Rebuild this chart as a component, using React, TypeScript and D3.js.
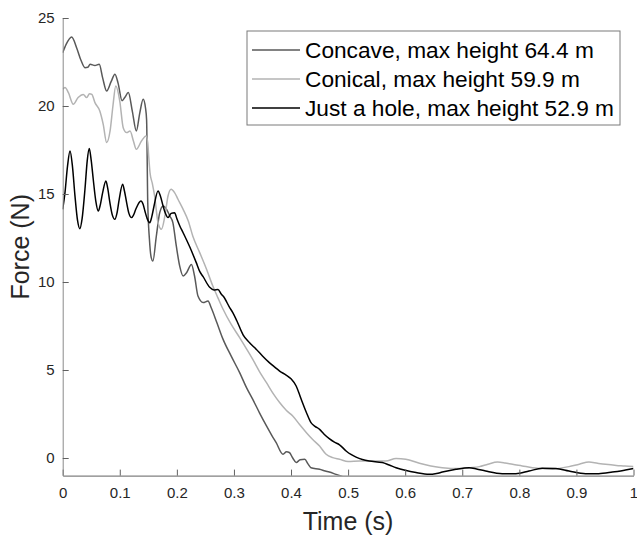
import { useRef, useEffect } from 'react';
import * as d3 from 'd3';

// [time (s), force (N)]
const concave: [number, number][] = [
  [0, 23.03], [0.006, 23.5], [0.0157, 23.92], [0.0245, 23.3], [0.032, 22.6], [0.039, 22.18],
  [0.044, 22.2], [0.048, 22.37], [0.0565, 22.3], [0.064, 22.37], [0.07, 21.6], [0.077, 20.85],
  [0.085, 21.4], [0.0915, 21.8], [0.097, 21.3], [0.104, 20.3], [0.109, 20.5], [0.115, 20.76],
  [0.122, 19.7], [0.129, 18.58], [0.135, 19.6], [0.141, 20.38], [0.145, 19.9], [0.147, 19.2],
  [0.149, 14.5], [0.152, 12.4], [0.155, 11.4], [0.158, 11.19], [0.164, 12.6], [0.17, 13.94],
  [0.176, 14.32], [0.182, 14.13], [0.1876, 13.75], [0.193, 13.37], [0.199, 12.05], [0.205, 10.9],
  [0.211, 10.34], [0.217, 10.53], [0.2255, 11.0], [0.231, 10.34], [0.237, 9.2], [0.246, 8.83],
  [0.2546, 8.92], [0.26, 8.55], [0.27, 7.7], [0.281, 6.74], [0.295, 5.8], [0.31, 4.85],
  [0.322, 4.0], [0.333, 3.33], [0.345, 2.55], [0.357, 1.82], [0.366, 1.3], [0.374, 0.87],
  [0.386, 0.21], [0.392, 0.35], [0.397, 0.31], [0.403, 0.0], [0.409, -0.26], [0.416, -0.1],
  [0.424, -0.07], [0.43, -0.35], [0.435, -0.55], [0.45, -0.64], [0.46, -0.74], [0.467, -0.8],
  [0.479, -0.93], [0.49, -1.05],
];

const conical: [number, number][] = [
  [0, 20.95], [0.004, 21.05], [0.01, 20.76], [0.0185, 20.1], [0.027, 20.48], [0.036, 20.66],
  [0.042, 20.48], [0.047, 20.7], [0.051, 20.66], [0.0565, 20.19], [0.065, 19.72], [0.071, 18.96],
  [0.077, 17.92], [0.083, 18.58], [0.088, 20.0], [0.093, 21.14], [0.1, 20.28], [0.106, 18.77],
  [0.112, 18.49], [0.118, 18.58], [0.124, 18.0], [0.129, 17.54], [0.138, 18.01], [0.146, 18.3],
  [0.149, 17.9], [0.151, 17.0], [0.153, 16.2], [0.157, 15.6], [0.161, 14.9], [0.167, 13.37],
  [0.173, 13.0], [0.179, 13.75], [0.1846, 14.9], [0.19, 15.27], [0.196, 15.08], [0.202, 14.7],
  [0.211, 14.13], [0.22, 13.47], [0.228, 12.6], [0.24, 11.67], [0.252, 10.72], [0.263, 9.77],
  [0.272, 9.1], [0.281, 8.45], [0.295, 7.6], [0.31, 6.84], [0.322, 6.2], [0.333, 5.6],
  [0.345, 4.9], [0.357, 4.28], [0.37, 3.6], [0.38, 3.15], [0.392, 2.7], [0.403, 2.39],
  [0.415, 1.9], [0.427, 1.44], [0.438, 1.05], [0.45, 0.68], [0.4615, 0.21], [0.473, 0.02],
  [0.485, -0.07], [0.5, -0.2], [0.52, -0.17], [0.543, -0.17], [0.566, -0.17], [0.584, -0.03],
  [0.601, -0.07], [0.625, -0.3], [0.645, -0.45], [0.665, -0.55], [0.695, -0.6], [0.712, -0.55],
  [0.73, -0.49], [0.745, -0.35], [0.762, -0.23], [0.775, -0.28], [0.788, -0.36], [0.805, -0.45],
  [0.823, -0.55], [0.84, -0.6], [0.858, -0.64], [0.872, -0.58], [0.887, -0.49], [0.905, -0.35],
  [0.922, -0.23], [0.937, -0.3], [0.951, -0.36], [0.97, -0.42], [0.985, -0.45], [1.0, -0.49],
];

const justHole: [number, number][] = [
  [0, 14.13], [0.004, 15.08], [0.0085, 16.6], [0.0128, 17.44], [0.017, 16.6], [0.0215, 14.89],
  [0.026, 13.5], [0.03, 13.03], [0.034, 13.6], [0.039, 15.27], [0.043, 16.9], [0.0465, 17.58],
  [0.05, 16.9], [0.0535, 15.84], [0.058, 14.6], [0.0623, 14.03], [0.066, 14.4], [0.07, 15.08],
  [0.0757, 15.74], [0.079, 15.3], [0.0827, 14.51], [0.087, 13.8], [0.0914, 13.56], [0.095, 13.9],
  [0.099, 14.7], [0.105, 15.55], [0.108, 15.2], [0.112, 14.51], [0.116, 13.9], [0.1206, 13.66],
  [0.124, 13.8], [0.128, 14.13], [0.137, 14.6], [0.141, 14.4], [0.144, 14.03], [0.148, 13.6],
  [0.1526, 13.37], [0.156, 13.7], [0.16, 14.32], [0.167, 15.17], [0.171, 14.9], [0.176, 14.3],
  [0.18, 13.9], [0.1846, 13.66], [0.19, 13.9], [0.196, 13.94], [0.2, 13.6], [0.205, 13.2],
  [0.211, 12.8], [0.2225, 12.0], [0.234, 11.1], [0.24, 10.6], [0.246, 10.3], [0.2575, 9.7],
  [0.265, 9.55], [0.272, 9.58], [0.278, 9.3], [0.281, 9.2], [0.2925, 8.55], [0.298, 8.26],
  [0.305, 7.8], [0.316, 7.0], [0.327, 6.56], [0.339, 6.18], [0.35, 5.8], [0.362, 5.42],
  [0.372, 5.15], [0.38, 4.94], [0.392, 4.7], [0.4, 4.5], [0.409, 4.09], [0.415, 3.6],
  [0.42, 3.15], [0.428, 2.5], [0.435, 2.01], [0.442, 1.8], [0.45, 1.63], [0.458, 1.35],
  [0.467, 1.1], [0.476, 0.9], [0.485, 0.75], [0.4965, 0.4], [0.505, 0.2], [0.514, 0.05],
  [0.525, -0.08], [0.537, -0.17], [0.56, -0.26], [0.572, -0.4], [0.584, -0.55], [0.6, -0.7],
  [0.619, -0.83], [0.642, -0.93], [0.655, -0.88], [0.665, -0.8], [0.689, -0.64], [0.712, -0.55],
  [0.725, -0.62], [0.741, -0.74], [0.77, -0.89], [0.794, -0.89], [0.817, -0.74], [0.84, -0.58],
  [0.864, -0.6], [0.887, -0.74], [0.916, -0.89], [0.939, -0.89], [0.963, -0.8], [0.986, -0.68],
  [1.0, -0.6],
];

const seriesNames = ['Concave, max height 64.4 m', 'Conical, max height 59.9 m', 'Just a hole, max height 52.9 m'];
const seriesColors = ['#595959', '#b3b3b3', '#000000'];
const xTicks = [0, 0.1, 0.2, 0.3, 0.4, 0.5, 0.6, 0.7, 0.8, 0.9, 1];
const yTicks = [0, 5, 10, 15, 20, 25];

const W = 637;
const H = 536;
const FONT = '"Liberation Sans", Arial, Helvetica, sans-serif';

export default function App() {
  const svgRef = useRef<SVGSVGElement>(null);

  useEffect(() => {
    if (!svgRef.current) return;
    const svg = d3.select(svgRef.current);
    svg.selectAll('*').remove();

    const x = d3.scaleLinear().domain([0, 1]).range([62.7, 633.5]);
    const y = d3.scaleLinear().domain([-1, 25]).range([475.6, 18]);

    svg.append('defs').append('clipPath').attr('id', 'plot-clip')
      .append('rect')
      .attr('x', x(0)).attr('y', y(25))
      .attr('width', x(1) - x(0)).attr('height', y(-1) - y(25));

    const line = d3.line<[number, number]>()
      .x(d => x(d[0]))
      .y(d => y(d[1]))
      .curve(d3.curveMonotoneX);

    const data = [concave, conical, justHole];
    const g = svg.append('g').attr('clip-path', 'url(#plot-clip)');
    // draw in order so black sits on top
    data.forEach((s, i) => {
      g.append('path')
        .attr('d', line(s) as string)
        .attr('fill', 'none')
        .attr('stroke', seriesColors[i])
        .attr('stroke-width', 1.5)
        .attr('stroke-linejoin', 'round');
    });

    // Axes (MATLAB style, ticks pointing in)
    const xAxis = svg.append('g')
      .attr('transform', `translate(0,${y(-1)})`)
      .call(d3.axisBottom(x).tickValues(xTicks).tickFormat(d3.format('.1~f') as any).tickSizeInner(-6).tickSizeOuter(0).tickPadding(12));
    const yAxis = svg.append('g')
      .attr('transform', `translate(${x(0)},0)`)
      .call(d3.axisLeft(y).tickValues(yTicks).tickSizeInner(-6).tickSizeOuter(0).tickPadding(8));

    [xAxis, yAxis].forEach(a => {
      a.select('.domain').attr('stroke', '#606060');
      a.selectAll('.tick line').attr('stroke', '#606060');
      a.selectAll('.tick text')
        .attr('fill', '#262626')
        .attr('font-size', 15)
        .attr('font-family', FONT);
    });
    yAxis.select('.domain').attr('stroke', '#8a8a8a');

    // Axis titles
    svg.append('text')
      .attr('x', (x(0) + x(1)) / 2)
      .attr('y', 530)
      .attr('text-anchor', 'middle')
      .attr('font-size', 25)
      .attr('font-family', FONT)
      .attr('fill', '#262626')
      .text('Time (s)');

    svg.append('text')
      .attr('transform', `translate(29,${(y(25) + y(-1)) / 2}) rotate(-90)`)
      .attr('text-anchor', 'middle')
      .attr('font-size', 25)
      .attr('font-family', FONT)
      .attr('fill', '#262626')
      .text('Force (N)');

    // Legend
    const lg = svg.append('g');
    lg.append('rect')
      .attr('x', 247).attr('y', 31)
      .attr('width', 373).attr('height', 94)
      .attr('fill', '#fff')
      .attr('stroke', '#7a7a7a')
      .attr('stroke-width', 1);
    seriesNames.forEach((name, i) => {
      const cy = 50 + i * 29;
      lg.append('line')
        .attr('x1', 252).attr('x2', 300)
        .attr('y1', cy).attr('y2', cy)
        .attr('stroke', seriesColors[i])
        .attr('stroke-width', 1.5);
      lg.append('text')
        .attr('x', 305).attr('y', cy)
        .attr('dominant-baseline', 'central')
        .attr('font-size', 22.7)
        .attr('font-family', FONT)
        .attr('fill', '#000')
        .text(name);
    });
  }, []);

  return (
    <svg
      ref={svgRef}
      width={W}
      height={H}
      style={{ position: 'absolute', left: 0, top: 0, background: '#fff' }}
    />
  );
}
